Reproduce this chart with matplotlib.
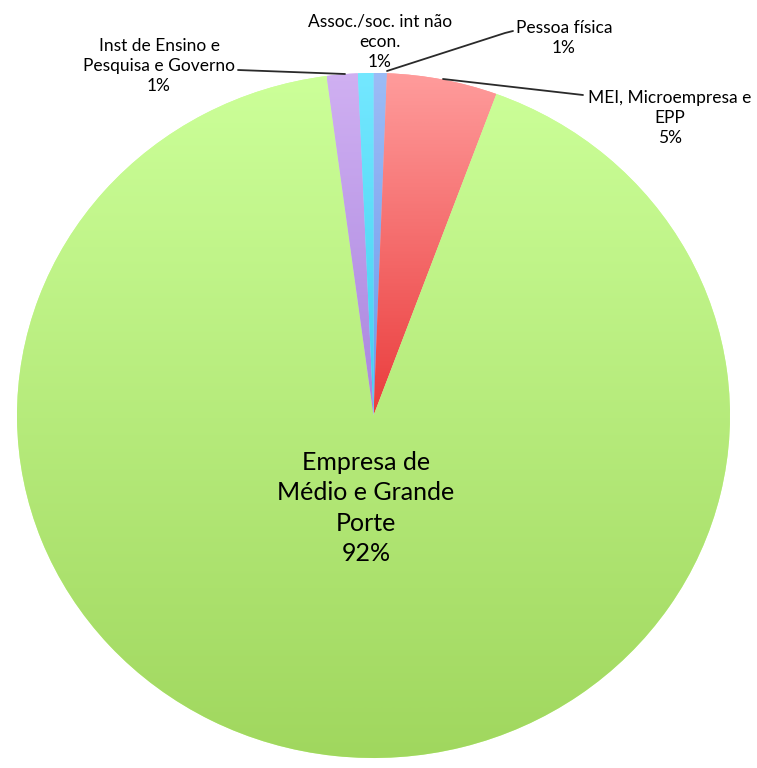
import numpy as np
import matplotlib
matplotlib.use("Agg")
import matplotlib.pyplot as plt
from matplotlib.colors import LinearSegmentedColormap

# ---- data ----
categories = ["Pessoa física", "MEI, Microempresa e\nEPP", "Empresa de\nMédio e Grande\nPorte",
              "Inst de Ensino e\nPesquisa e Governo", "Assoc./soc. int não\necon."]
values = [0.6, 5.0, 92.3, 1.4, 0.7]
top_colors = ["#9cbcf6", "#ff9c9c", "#ccff99", "#d0b0f2", "#74e8ff"]
bottom_colors = ["#6d9aec", "#ea3c3c", "#a0d75e", "#a985de", "#3fd0f0"]

W, H = 757, 768
fig = plt.figure(figsize=(W / 100, H / 100), dpi=100)
ax = fig.add_axes([0, 0, 1, 1])

# pixel geometry of the (slightly elliptical) pie
CX, CY, RX, RY = 373.5, 415.5, 356.5, 342.5

def P(px, py):
    return (px - CX) / RX, (CY - py) / RY

wedges, _ = ax.pie(values, startangle=90, counterclock=False, radius=1.0,
                   colors=top_colors, wedgeprops=dict(linewidth=0))

for w, c1, c2 in zip(wedges, top_colors, bottom_colors):
    v = w.get_path().vertices
    x0, x1 = v[:, 0].min(), v[:, 0].max()
    y0, y1 = v[:, 1].min(), v[:, 1].max()
    cmap = LinearSegmentedColormap.from_list("g", [c2, c1])
    grad = np.linspace(0, 1, 256).reshape(-1, 1)
    im = ax.imshow(grad, cmap=cmap, origin="lower", extent=(x0, x1, y0, y1),
                   aspect="auto", interpolation="bicubic", zorder=2)
    im.set_clip_path(w)

ax.set_aspect("auto")
ax.set_xlim(-CX / RX, (W - CX) / RX)
ax.set_ylim((CY - H) / RY, CY / RY)
ax.axis("off")

font = ["Lato", "DejaVu Sans"]
small = 12.5

def lab(text, px, py, fs=small, ls=1.32):
    x, y = P(px, py)
    ax.text(x, y, text, ha="center", va="center", multialignment="center",
            fontsize=fs, family=font, color="#000000", linespacing=ls, zorder=5)

pct = [f"{round(v):d}%" for v in values]

lab(categories[4] + "\n" + pct[4], 380, 42)
lab(categories[0] + "\n" + pct[0], 564, 38)
lab(categories[1] + "\n" + pct[1], 670, 118)
lab(categories[3] + "\n" + pct[3], 159, 66)
lab(categories[2] + "\n" + pct[2], 366, 508, fs=18, ls=1.38)

def line(pts):
    xs, ys = zip(*[P(a, b) for a, b in pts])
    ax.plot(xs, ys, color="#2a2a2a", lw=1.3, zorder=6, solid_capstyle="round")

line([(238, 70), (345, 74)])
line([(387, 71), (505, 33), (513, 31)])
line([(443, 79), (583, 95)])

fig.savefig("out.png", dpi=100)
